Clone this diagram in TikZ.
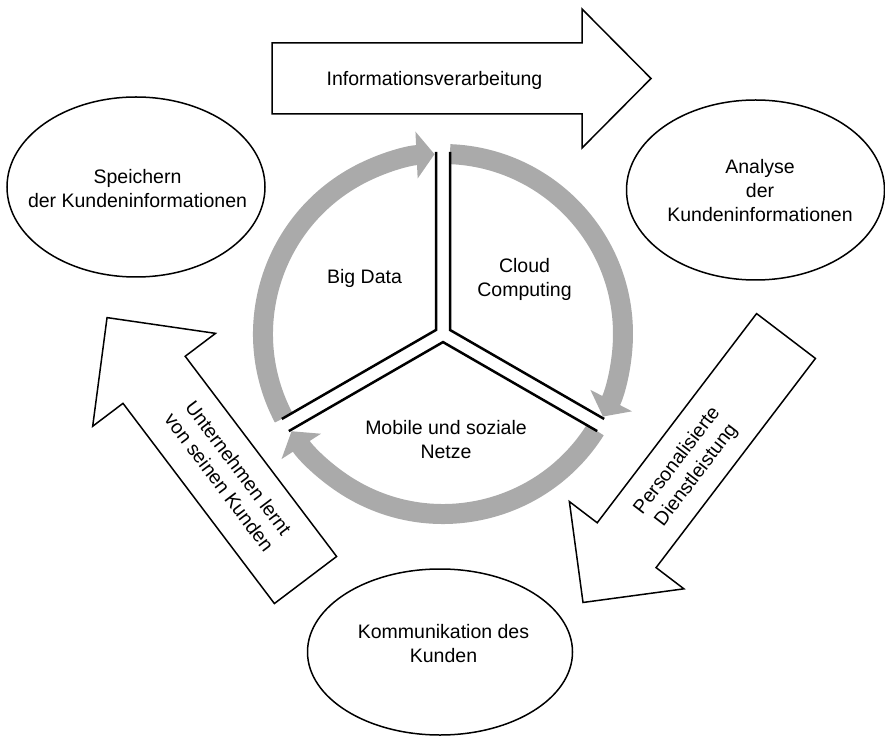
\documentclass[tikz,border=0pt]{standalone}
\usepackage{fontspec}
\setmainfont{Liberation Sans}
\usetikzlibrary{shapes.geometric, arrows.meta, calc}
\definecolor{ringGray}{RGB}{170,170,170}

\begin{document}
\begin{tikzpicture}[x=1pt, y=1pt,
	every node/.style={font=\fontsize{19.5}{24}\selectfont, align=center, inner sep=0pt},
	oval/.style={ellipse, draw, line width=1.5pt, minimum width=258pt, minimum height=180pt},
	fat/.style={draw, fill=white, line width=1.5pt, line join=miter},
	ring/.style={draw=ringGray, line width=20pt, -{Triangle[length=18pt, width=46pt]}},
	sep/.style={line width=2.5pt, line join=miter}]
	\useasboundingbox (0,0) rectangle (885,737);
	% Top arrow
	\begin{scope}[shift={(272,658.5)}]
		\draw[fat] (0,-35.5) -- (310,-35.5) -- (310,-69.5) -- (379,0) -- (310,69.5) -- (310,35.5) -- (0,35.5) -- cycle;
	\end{scope}
	\node (verarbeitung) at (434.5,657) {Informationsverarbeitung};
	% Right arrow, pointing down-left
	\begin{scope}[shift={(786,401)}, rotate=232.7]
		\draw[fat] (0,-37) -- (263,-37) -- (263,-72) -- (335,0) -- (263,72) -- (263,37) -- (0,37) -- cycle;
	\end{scope}
	\node[rotate=52.7] (dienst) at (687,269) {Personalisierte\\Dienstleistung};
	% Left arrow, pointing up-left
	\begin{scope}[shift={(305.5,157)}, rotate=127.1]
		\draw[fat] (0,-39) -- (251,-39) -- (251,-77) -- (329,0) -- (251,77) -- (251,39) -- (0,39) -- cycle;
	\end{scope}
	\node[rotate=-53] (lernt) at (229,262) {Unternehmen lernt\\von seinen Kunden};
	% Ellipses
	\node[oval] (speichern) at (136,550) {};
	\node (speichernText) at (137.5,548) {Speichern\\der Kundeninformationen};
	\node[oval] (analyse) at (755.5,547) {};
	\node (analyseText) at (760,546) {Analyse\\der\\Kundeninformationen};
	\node[oval, minimum width=265pt, minimum height=166pt] (kommunikation) at (440,85) {};
	\node (kommunikationText) at (443.5,93) {Kommunikation des\\Kunden};
	% Ring of three arrows
	\coordinate (O) at (443,403);
	\draw[ring] ($(O)+(207.8:180)$) arc[start angle=207.8, end angle=92.7, radius=180];
	\draw[ring] ($(O)+(87.8:180)$) arc[start angle=87.8, end angle=-27.3, radius=180];
	\draw[ring] ($(O)+(-32.2:180)$) arc[start angle=-32.2, end angle=-147.3, radius=180];
	% Separators
	\draw[sep] ($(O)+(150:8.08)+(90:178)$) -- ($(O)+(150:8.08)$) -- ++(210:178);
	\draw[sep] ($(O)+(30:8.08)+(90:178)$) -- ($(O)+(30:8.08)$) -- ++(330:178);
	\draw[sep] ($(O)+(270:8.08)+(210:178)$) -- ($(O)+(270:8.08)$) -- ++(330:178);
	% Sector labels
	\node (bigdata) at (364.5,458.5) {Big Data};
	\node (cloud) at (524.5,457.5) {Cloud\\Computing};
	\node (mobile) at (446,297.5) {Mobile und soziale\\Netze};
\end{tikzpicture}
\end{document}
